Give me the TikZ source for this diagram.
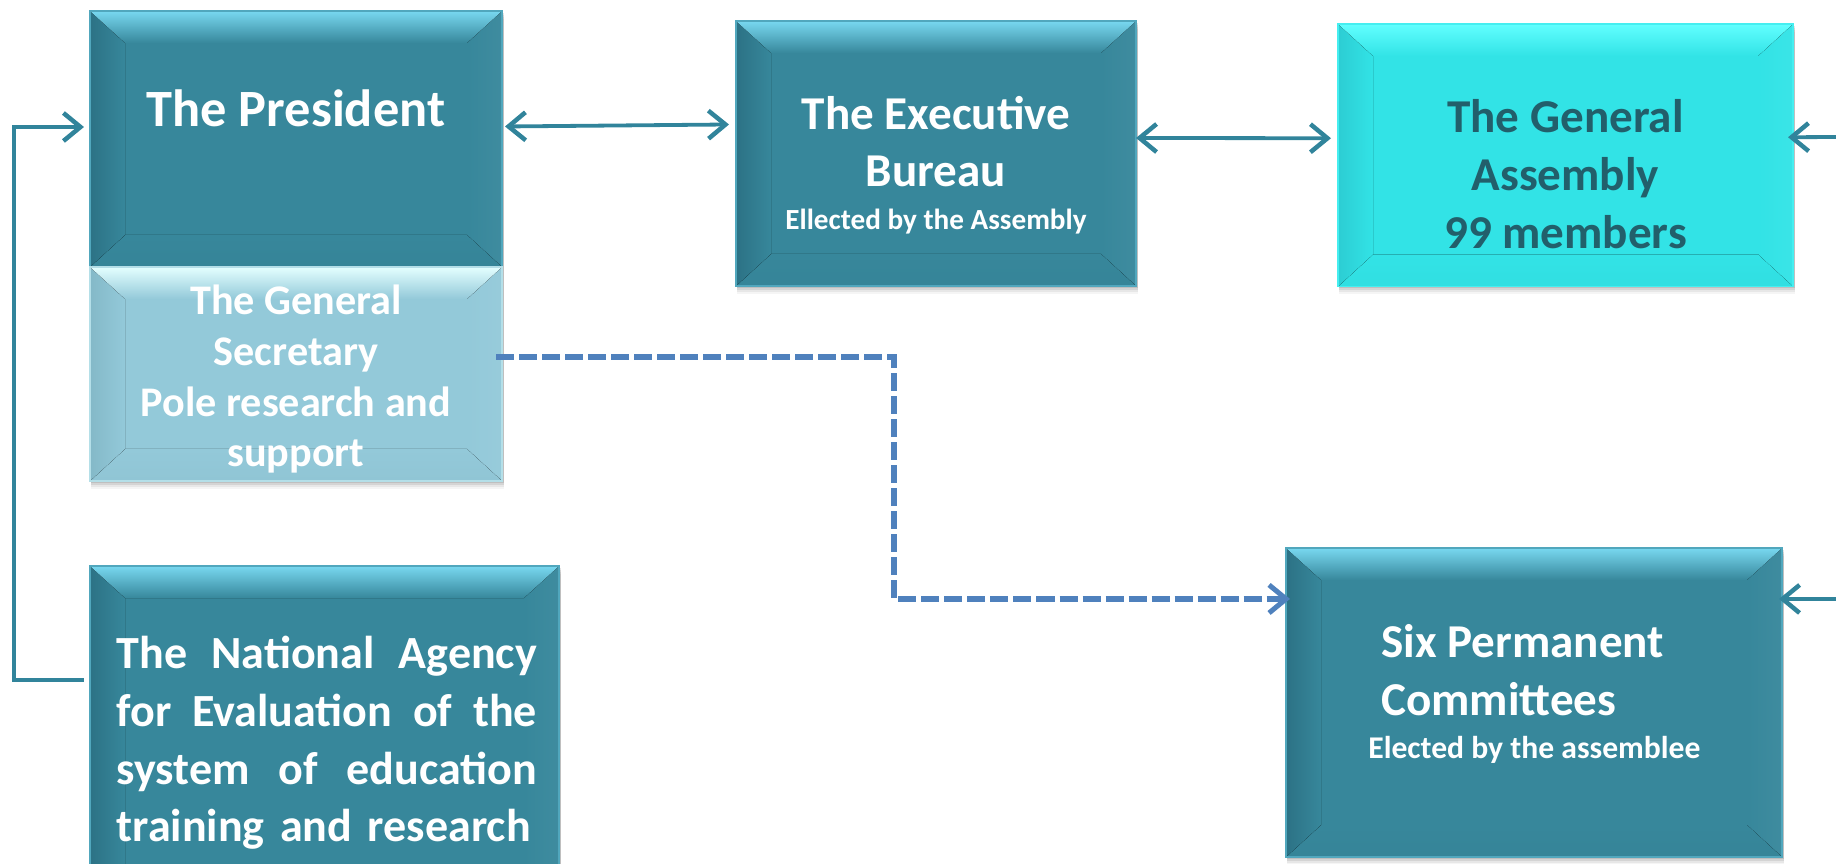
\documentclass[tikz,border=0pt]{standalone}
\usepackage{fontspec}
\setmainfont{Carlito}
\usetikzlibrary{arrows.meta,calc}
\definecolor{tealmain}{HTML}{37879B}
\definecolor{teallight}{HTML}{78D8F0}
\definecolor{tealdark}{HTML}{2C7285}
\definecolor{secmain}{HTML}{93C9D9}
\definecolor{seclight}{HTML}{E4FFFF}
\definecolor{secdark}{HTML}{84B9C8}
\definecolor{gamain}{HTML}{32E3E6}
\definecolor{galight}{HTML}{62FFFF}
\definecolor{gadark}{HTML}{2CCDD3}
\definecolor{gatext}{HTML}{225F6B}
\definecolor{arrowc}{HTML}{31849B}
\definecolor{dashc}{HTML}{4F81BD}
\newcommand\jline[1]{\leavevmode\hbox to 4.2cm{#1}}
\tikzset{
  x=0.01cm, y=-0.01cm,
  box/.style={rectangle, draw=none, inner sep=0pt, outer sep=0pt},
  big/.style={font=\fontsize{13.4pt}{16.4pt}\selectfont\bfseries, text=white, inner sep=0pt, align=center},
  bigger/.style={font=\fontsize{14.9pt}{16.4pt}\selectfont\bfseries, text=white, inner sep=0pt, align=center},
  agtext/.style={font=\fontsize{13.1pt}{16.4pt}\selectfont\bfseries, text=white, inner sep=0pt},
  sectext/.style={font=\fontsize{12pt}{14.5pt}\selectfont\bfseries, text=white, inner sep=0pt, align=center},
  small/.style={font=\fontsize{8.3pt}{10pt}\selectfont\bfseries, text=white, inner sep=0pt},
  smallb/.style={font=\fontsize{9pt}{10pt}\selectfont\bfseries, text=white, inner sep=0pt},
  conn/.style={draw=arrowc, line width=0.038cm, -{Straight Barb[length=0.17cm, width=0.28cm, line width=0.045cm]}},
  biconn/.style={draw=arrowc, line width=0.038cm, {Straight Barb[length=0.17cm, width=0.28cm, line width=0.045cm]}-{Straight Barb[length=0.17cm, width=0.28cm, line width=0.045cm]}},
  dashconn/.style={draw=dashc, line width=0.052cm, dash pattern=on 0.18cm off 0.05cm, -{Straight Barb[length=0.17cm, width=0.28cm, line width=0.05cm]}},
}
% name, cx, cy, w, h, main, light, dark
\newcommand\bevbox[8]{%
  \foreach \s/\o in {2/0.10,4/0.08,6/0.06,8/0.04}{
    \fill[black, opacity=\o] (#2-#4/2+1, #3-#5/2+\s) rectangle (#2+#4/2+2, #3+#5/2+\s);}
  \node[box, minimum width=#4*0.01cm, minimum height=#5*0.01cm, fill=#6] (#1) at (#2,#3) {};
  \fill[left color=#6, right color=#6!96!white] ($(#1.north east)+(-35,32)$) -- (#1.north east) -- (#1.south east) -- ($(#1.south east)+(-35,-32)$) -- cycle;
  \fill[top color=#6, bottom color=#6!98!black] ($(#1.south west)+(35,-32)$) -- ($(#1.south east)+(-35,-32)$) -- (#1.south east) -- (#1.south west) -- cycle;
  \fill[left color=#8, right color=#6] (#1.north west) -- ($(#1.north west)+(35,32)$) -- ($(#1.south west)+(35,-32)$) -- (#1.south west) -- cycle;
  \fill[top color=#7, bottom color=#6] (#1.north west) -- (#1.north east) -- ($(#1.north east)+(-35,32)$) -- ($(#1.north west)+(35,32)$) -- cycle;
  \draw[#7!40!#6, line width=0.012cm] (#1.north west) rectangle (#1.south east);
}
\begin{document}
\begin{tikzpicture}
\useasboundingbox (0,0) rectangle (1836,864);
\begin{scope}
\clip (0,0) rectangle (1836,864);
% boxes
\bevbox{pres}{296}{139}{412}{256}{tealmain}{teallight}{tealdark}
\bevbox{sec}{296}{374}{412}{214}{secmain}{seclight}{secdark}
\bevbox{exec}{936}{153.5}{400}{265}{tealmain}{teallight}{tealdark}
\bevbox{ga}{1565.5}{155.25}{455}{262.5}{gamain}{galight}{gadark}
\bevbox{agency}{324.5}{738}{469}{344}{tealmain}{teallight}{tealdark}
\bevbox{six}{1534}{702.5}{496}{309}{tealmain}{teallight}{tealdark}

% texts
\node[bigger, anchor=base] (tpres) at (296,127) {The President};
\node[big, anchor=base] (texec) at (936,186.7) {The Executive\\Bureau};
\node[small, anchor=base] (texecs) at (936,230) {Ellected by the Assembly};
\node[big, anchor=base, text=gatext] (tga) at (1565.5,248.3) {The General\\Assembly\\99 members};
\node[sectext, anchor=base] (tsec) at (296,467) {The General\\Secretary\\Pole research and\\support};
\node[agtext, anchor=base west, align=left, text width=4.4cm] (tagency) at (116,668.7)
  {\jline{The\hfill National\hfill Agency}\\\jline{for\hfill Evaluation\hfill of\hfill the}\\\jline{system\hfill of\hfill education}\\\mbox{training and research}};
\node[big, anchor=base west, align=left] (tsix) at (1380.5,715.3) {Six Permanent\\Committees};
\node[smallb, anchor=base west] (tsixs) at (1367.6,758.7) {Elected by the assemblee};

% connectors
\draw[biconn] ([xshift=0.03cm,yshift=0.125cm]pres.east) -- ([xshift=-0.07cm,yshift=0.29cm]exec.west);
\draw[biconn] ([yshift=0.155cm]exec.east) -- ([xshift=-0.07cm,yshift=0.17cm]ga.west);
\coordinate (rin1) at (1840,137);
\draw[conn] (rin1) -- ([xshift=-0.05cm,yshift=0.18cm]ga.east);
\coordinate (rin2) at (1840,599);
\draw[conn] (rin2) -- ([xshift=-0.03cm,yshift=1.035cm]six.east);
\coordinate (fbx) at (14,0);
\coordinate (agA) at ([xshift=-0.06cm,yshift=0.58cm]agency.west);
\coordinate (prA) at ([xshift=-0.06cm,yshift=0.12cm]pres.west);
\draw[conn, line join=miter] (agA) -- (agA -| fbx) -- (prA -| fbx) -- (prA);
\coordinate (dx) at (894,0);
\coordinate (secA) at ([xshift=-0.06cm,yshift=0.17cm]sec.east);
\coordinate (sixA) at ([xshift=0.04cm,yshift=1.035cm]six.west);
\draw[dashconn] (secA) -- (secA -| dx) -- (sixA -| dx) -- (sixA);
\end{scope}
\end{tikzpicture}
\end{document}
